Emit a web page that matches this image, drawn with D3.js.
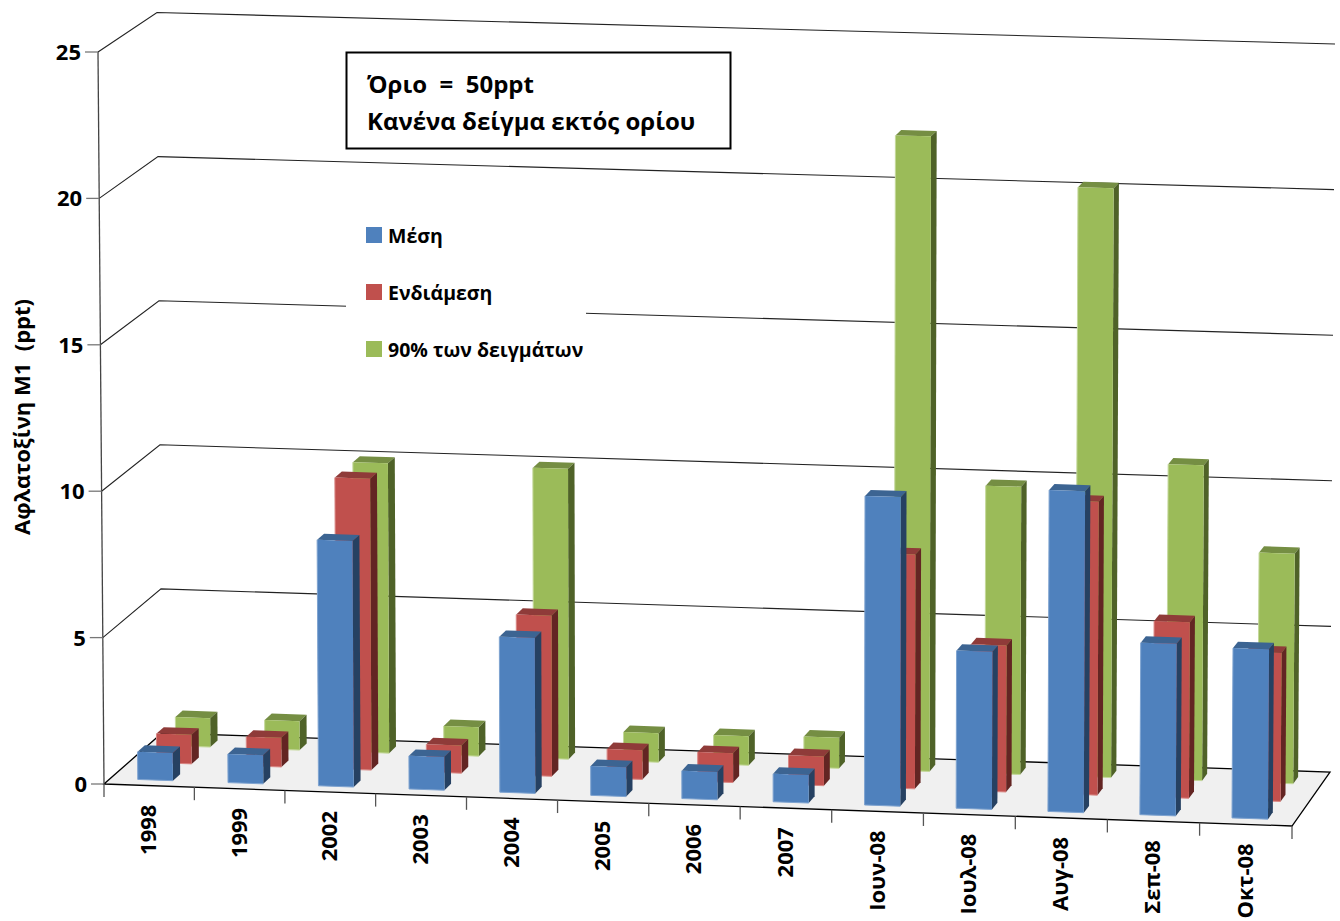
<!DOCTYPE html>
<html>
<head>
<meta charset="utf-8">
<script src="https://cdnjs.cloudflare.com/ajax/libs/d3/7.8.5/d3.min.js"></script>
<style>
html, body { margin: 0; padding: 0; background: #fff; }
svg { display: block; }
text { font-family: "Open Sans", sans-serif; font-weight: bold; fill: #000; white-space: pre; }
</style>
</head>
<body>
<div id="chart"></div>
<script>
var categories = ["1998", "1999", "2002", "2003", "2004", "2005", "2006", "2007", "Ιουν-08", "Ιουλ-08", "Αυγ-08", "Σεπ-08", "Οκτ-08"];
var seriesNames = ["Μέση", "Ενδιάμεση", "90% των δειγμάτων"];
var meanValues = [0.95, 0.98, 8.4, 1.13, 5.3, 1.0, 0.95, 0.95, 10.5, 5.35, 10.9, 5.83, 5.75];
var medianValues = [1.0, 1.0, 10.0, 0.95, 5.5, 1.0, 1.0, 1.0, 8.0, 5.0, 10.0, 6.0, 5.05];
var p90Values = [1.0, 1.0, 10.0, 1.0, 10.0, 1.0, 1.0, 1.05, 21.8, 9.87, 20.2, 10.8, 7.87];
var valueTicks = [0, 5, 10, 15, 20, 25];
var noteLines = ["Όριο  =  50ppt", "Κανένα δείγμα εκτός ορίου"];
var axisTitle = "Αφλατοξίνη Μ1  (ppt)";

var seriesValues = [meanValues, medianValues, p90Values];
var w = 1340, h = 921;

var svg = d3.select("#chart").append("svg")
    .attr("width", w)
    .attr("height", h);

// the eight corners of the chart box, front/back, left/right, floor/top
var box = {
    flb: [104, 784], frb: [1292, 826], blb: [162, 733], brb: [1330, 772],
    flt: [98, 52], frt: [1297, 86], blt: [157, 12.5], brt: [1335, 44]
};

var xScale = d3.scaleBand().domain(categories).range([0, 1]);
var yScale = d3.scaleLinear().domain([0, 25]).range([0, 1]);
var depthScale = d3.scaleBand().domain(seriesNames).range([0, 1]).paddingInner(0.615).paddingOuter(0.33);
var barWidth = 0.39 * xScale.bandwidth();
var barGap = 0.305 * xScale.bandwidth();

function mix(a, b, t) { return [a[0] + (b[0] - a[0]) * t, a[1] + (b[1] - a[1]) * t]; }

// u along the categories, d into the depth, v up the value axis
function project(u, d, v) {
    // categories get slightly wider to the right, the view is in perspective
    var uu = u - 0.012 * u * (1 - u);
    var bottom = mix(mix(box.flb, box.frb, uu), mix(box.blb, box.brb, uu), d);
    var top = mix(mix(box.flt, box.frt, uu), mix(box.blt, box.brt, uu), d);
    return mix(bottom, top, v);
}
function pathOf(points) { return d3.line()(points) + "Z"; }

var grid = svg.append("g");

// floor
grid.append("path")
    .attr("d", pathOf([project(0, 0, 0), project(1, 0, 0), project(1, 1, 0), project(0, 1, 0)]))
    .attr("fill", "#f0f0f0")
    .attr("stroke", "#000")
    .attr("stroke-width", 1.3);

// gridlines on the left and back walls
grid.selectAll(".wall")
    .data(valueTicks.slice(1))
    .enter().append("path")
    .attr("class", "wall")
    .attr("d", function (d) {
        var v = yScale(d);
        return d3.line()([project(0, 0, v), project(0, 1, v), project(1, 1, v)]);
    })
    .attr("fill", "none")
    .attr("stroke", "#222")
    .attr("stroke-width", 1.1);

// value axis
grid.append("path")
    .attr("d", d3.line()([project(0, 0, 0), project(0, 0, 1)]))
    .attr("stroke", "#444")
    .attr("stroke-width", 1.3);

grid.selectAll(".ytick")
    .data(valueTicks)
    .enter().append("path")
    .attr("class", "ytick")
    .attr("d", function (d) {
        var p = project(0, 0, yScale(d));
        return d3.line()([p, [p[0] - 13, p[1]]]);
    })
    .attr("stroke", "#777")
    .attr("stroke-width", 1.3);

svg.selectAll(".ylabel")
    .data(valueTicks)
    .enter().append("text")
    .attr("class", "ylabel")
    .attr("x", function (d) { return project(0, 0, yScale(d))[0] - 17; })
    .attr("y", function (d) { return project(0, 0, yScale(d))[1]; })
    .attr("dy", "0.36em")
    .attr("text-anchor", "end")
    .attr("font-size", 22)
    .text(function (d) { return d; });

// category ticks
var xTickPositions = categories.map(function (c) { return xScale(c); }).concat([1]);
grid.selectAll(".xtick")
    .data(xTickPositions)
    .enter().append("path")
    .attr("class", "xtick")
    .attr("d", function (d) {
        var p = project(d, 0, 0);
        return d3.line()([p, [p[0], p[1] + 13]]);
    })
    .attr("stroke", "#555")
    .attr("stroke-width", 1.3);

svg.selectAll(".xlabel")
    .data(categories)
    .enter().append("text")
    .attr("class", "xlabel")
    .attr("transform", function (d) {
        var p = project(xScale(d) + xScale.bandwidth() / 2, 0, 0);
        return "translate(" + (p[0] + 7) + "," + (p[1] + 19) + ") rotate(-90)";
    })
    .attr("text-anchor", "end")
    .attr("font-size", 22)
    .text(function (d) { return d; });

// bars, furthest series first
var colors = [
    { front: "#4f81bd", top: "#3c6492", side: "#264162", edge: "#7ea3d0" },
    { front: "#c0504d", top: "#8f3b39", side: "#632523", edge: "#d98683" },
    { front: "#9bbb59", top: "#758e43", side: "#4f6228", edge: "#c4d89a" }
];
var bars = svg.append("g");
[2, 1, 0].forEach(function (s) {
    var name = seriesNames[s];
    var d0 = depthScale(name), d1 = d0 + depthScale.bandwidth();
    var g = bars.append("g");
    var bar = g.selectAll("g")
        .data(seriesValues[s])
        .enter().append("g");
    function u0(i) { return xScale(categories[i]) + barGap; }
    function u1(i) { return u0(i) + barWidth; }
    bar.append("path")
        .attr("d", function (d, i) {
            var v = yScale(d);
            return pathOf([project(u0(i), d0, v), project(u1(i), d0, v), project(u1(i), d1, v), project(u0(i), d1, v)]);
        })
        .attr("fill", colors[s].top);
    bar.append("path")
        .attr("d", function (d, i) {
            var v = yScale(d);
            return pathOf([project(u1(i), d0, 0), project(u1(i), d1, 0), project(u1(i), d1, v), project(u1(i), d0, v)]);
        })
        .attr("fill", colors[s].side);
    bar.append("path")
        .attr("d", function (d, i) {
            var v = yScale(d);
            return pathOf([project(u0(i), d0, 0), project(u1(i), d0, 0), project(u1(i), d0, v), project(u0(i), d0, v)]);
        })
        .attr("fill", colors[s].front);
    // thin light edge down the left and along the foot of the front face
    bar.append("path")
        .attr("d", function (d, i) {
            return d3.line()([project(u0(i), d0, yScale(d)), project(u0(i), d0, 0), project(u1(i), d0, 0)]);
        })
        .attr("fill", "none")
        .attr("stroke", colors[s].edge)
        .attr("stroke-width", 1);
});

// legend has a white backing that cuts the gridline
var legend = svg.append("g");
legend.append("rect")
    .attr("x", 346)
    .attr("y", 218)
    .attr("width", 240)
    .attr("height", 145)
    .attr("fill", "#fff");
var legendRow = legend.selectAll(".row")
    .data(seriesNames)
    .enter().append("g")
    .attr("class", "row")
    .attr("transform", function (d, i) { return "translate(366," + (227 + i * 57) + ")"; });
legendRow.append("rect")
    .attr("width", 16)
    .attr("height", 16)
    .attr("fill", function (d, i) { return colors[i].front; });
legendRow.append("text")
    .attr("x", 22)
    .attr("y", 16)
    .attr("font-size", 19.5)
    .text(function (d) { return d; });

// note box
svg.append("rect")
    .attr("x", 346.5)
    .attr("y", 52.5)
    .attr("width", 384)
    .attr("height", 96)
    .attr("fill", "#fff")
    .attr("stroke", "#000")
    .attr("stroke-width", 2);
svg.selectAll(".note")
    .data(noteLines)
    .enter().append("text")
    .attr("class", "note")
    .attr("x", 367)
    .attr("y", function (d, i) { return 93 + i * 37; })
    .attr("font-size", 24)
    .text(function (d) { return d; });

svg.append("text")
    .attr("transform", "translate(30,417) rotate(-90)")
    .attr("text-anchor", "middle")
    .attr("font-size", 22)
    .text(axisTitle);
</script>
</body>
</html>
